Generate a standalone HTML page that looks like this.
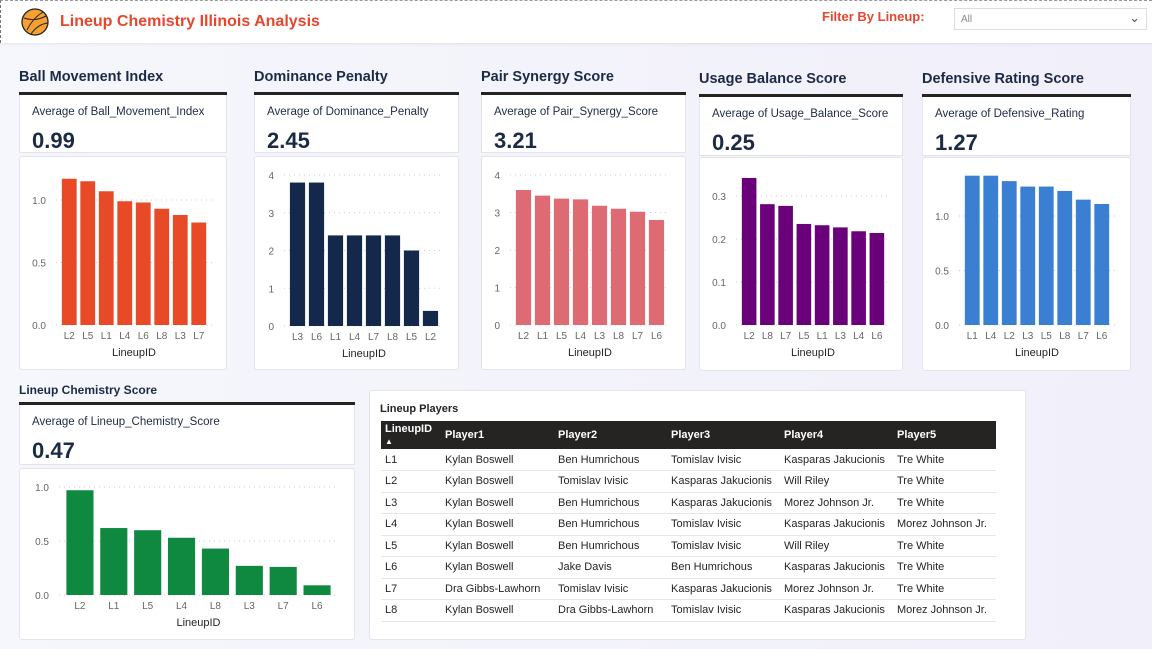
<!DOCTYPE html>
<html><head><meta charset="utf-8">
<style>
*{box-sizing:border-box;margin:0;padding:0}
body{width:1152px;height:649px;overflow:hidden;background:linear-gradient(90deg,#f5f7fc,#f1effa);font-family:"Liberation Sans","DejaVu Sans",sans-serif;position:relative;color:#1c2b45}
.abs{position:absolute}
.hdr{left:0;top:0;width:1152px;height:43px;background:#fff;box-shadow:0 1px 3px rgba(0,0,0,.08);border-left:1px dashed #777;border-top:1px dashed #999}
.ttl{font-size:14.5px;font-weight:bold;color:#1c2b45;white-space:nowrap}
.line{height:3px;background:#252423}
.kpi{background:#fff;border:1px solid #e3e5ea;border-top:none}
.kpi .lab{position:absolute;left:12px;top:11px;font-size:11.5px;color:#1c2b45;white-space:nowrap}
.kpi .val{position:absolute;left:12px;top:33px;font-size:22px;font-weight:bold;color:#1c2b45}
.card{background:#fff;border:1px solid #e3e5ea;border-radius:3px}
svg text{font-family:"Liberation Sans",sans-serif}
table{border-collapse:collapse;font-size:11px;color:#252423}
td,th{text-align:left;padding-left:4px;white-space:nowrap}
</style></head><body>
<div class="abs hdr"></div>
<svg class="abs" style="left:21px;top:8px" width="28" height="28">
<circle cx="14" cy="14" r="13" fill="#f5a030" stroke="#222" stroke-width="1.3"/>
<path d="M3 10 Q14 14 25 8 M6 22 Q12 10 22 4 M10 26 Q17 16 27 15" fill="none" stroke="#222" stroke-width="1"/></svg>
<div class="abs" style="left:60px;top:13px;font-size:16px;font-weight:bold;color:#e8452c">Lineup Chemistry Illinois Analysis</div>
<div class="abs" style="left:822px;top:9px;font-size:13px;font-weight:bold;color:#e8452c">Filter By Lineup:</div>
<div class="abs" style="left:954px;top:8px;width:193px;height:22px;border:1px solid #ddd;background:#fff;font-size:10px;color:#888;padding:5px 6px">All<span style="position:absolute;right:6px;top:1px;font-size:13px;color:#555">&#8964;</span></div>

<div id="charts"></div>

<div class="abs card" style="left:369px;top:390px;width:657px;height:250px">
<div class="abs" style="left:10px;top:12px;font-size:11px;font-weight:bold;color:#252423">Lineup Players</div>
<table class="abs" style="left:11px;top:30px;width:615px">
<thead><tr style="background:#252423;color:#fff;height:28px"><th style="width:60px">LineupID<br><span style="font-size:8px">&#9650;</span></th><th style="width:113px">Player1</th><th style="width:113px">Player2</th><th style="width:113px">Player3</th><th style="width:113px">Player4</th><th>Player5</th></tr></thead>
<tbody id="tb"></tbody></table>
</div>

<script>
const rowsData=[
["L1","Kylan Boswell","Ben Humrichous","Tomislav Ivisic","Kasparas Jakucionis","Tre White"],
["L2","Kylan Boswell","Tomislav Ivisic","Kasparas Jakucionis","Will Riley","Tre White"],
["L3","Kylan Boswell","Ben Humrichous","Kasparas Jakucionis","Morez Johnson Jr.","Tre White"],
["L4","Kylan Boswell","Ben Humrichous","Tomislav Ivisic","Kasparas Jakucionis","Morez Johnson Jr."],
["L5","Kylan Boswell","Ben Humrichous","Tomislav Ivisic","Will Riley","Tre White"],
["L6","Kylan Boswell","Jake Davis","Ben Humrichous","Kasparas Jakucionis","Tre White"],
["L7","Dra Gibbs-Lawhorn","Tomislav Ivisic","Kasparas Jakucionis","Morez Johnson Jr.","Tre White"],
["L8","Kylan Boswell","Dra Gibbs-Lawhorn","Tomislav Ivisic","Kasparas Jakucionis","Morez Johnson Jr."]];
const ballCats=["L2","L5","L1","L4","L6","L8","L3","L7"];
const ballVals=[1.17,1.15,1.07,0.99,0.98,0.93,0.88,0.82];
const ballTicks=[0,0.5,1.0];
const domCats=["L3","L6","L1","L4","L7","L8","L5","L2"];
const domVals=[3.8,3.8,2.4,2.4,2.4,2.4,2.0,0.4];
const domTicks=[0,1,2,3,4];
const pairCats=["L2","L1","L5","L4","L3","L8","L7","L6"];
const pairVals=[3.6,3.45,3.37,3.35,3.18,3.1,3.02,2.8];
const pairTicks=[0,1,2,3,4];
const useCats=["L2","L8","L7","L5","L1","L3","L4","L6"];
const useVals=[0.342,0.281,0.277,0.235,0.232,0.227,0.218,0.214];
const useTicks=[0,0.1,0.2,0.3];
const defCats=["L1","L4","L2","L3","L5","L8","L7","L6"];
const defVals=[1.37,1.37,1.32,1.27,1.27,1.23,1.15,1.11];
const defTicks=[0,0.5,1.0];
const chemCats=["L2","L1","L5","L4","L8","L3","L7","L6"];
const chemVals=[0.97,0.62,0.6,0.53,0.43,0.27,0.26,0.09];
const chemTicks=[0,0.5,1.0];

const tb=document.getElementById('tb');
rowsData.forEach((r,i)=>{const tr=document.createElement('tr');tr.style.height='21.5px';tr.style.borderBottom='1px solid #e6e6e6';


r.forEach(c=>{const td=document.createElement('td');td.textContent=c;tr.appendChild(td)});tb.appendChild(tr)});

const panels=[
{name:'ball-movement',title:'Ball Movement Index',lab:'Average of Ball_Movement_Index',kpi:'0.99',x:19,w:208,ty:69,ly:92,ky:95,kh:58,cy:156,ch:214,cats:ballCats,vals:ballVals,ticks:ballTicks,dec:1,max:1.0,y0:325,ymax:200,color:'#e84a27',bx0:60,bx1:208},
{name:'dominance-penalty',title:'Dominance Penalty',lab:'Average of Dominance_Penalty',kpi:'2.45',x:254,w:205,ty:69,ly:92,ky:95,kh:58,cy:156,ch:214,cats:domCats,vals:domVals,ticks:domTicks,dec:0,max:4,y0:326,ymax:175,color:'#13284b',bx0:288,bx1:440},
{name:'pair-synergy',title:'Pair Synergy Score',lab:'Average of Pair_Synergy_Score',kpi:'3.21',x:481,w:205,ty:69,ly:92,ky:95,kh:58,cy:156,ch:214,cats:pairCats,vals:pairVals,ticks:pairTicks,dec:0,max:4,y0:325,ymax:175,color:'#de6a73',bx0:514,bx1:666},
{name:'usage-balance',title:'Usage Balance Score',lab:'Average of Usage_Balance_Score',kpi:'0.25',x:699,w:204,ty:71,ly:94,ky:97,kh:59,cy:157,ch:214,cats:useCats,vals:useVals,ticks:useTicks,dec:1,max:0.3,y0:325,ymax:196,color:'#6b007b',bx0:740,bx1:886},
{name:'defensive-rating',title:'Defensive Rating Score',lab:'Average of Defensive_Rating',kpi:'1.27',x:922,w:209,ty:71,ly:94,ky:97,kh:59,cy:157,ch:214,cats:defCats,vals:defVals,ticks:defTicks,dec:1,max:1.0,y0:325,ymax:216,color:'#3a7fd2',bx0:963,bx1:1111},
{name:'lineup-chemistry',title:'Lineup Chemistry Score',lab:'Average of Lineup_Chemistry_Score',kpi:'0.47',x:19,w:336,ty:383,ly:402,ky:405,kh:60,cy:468,ch:172,cats:chemCats,vals:chemVals,ticks:chemTicks,dec:1,max:1.0,y0:595,ymax:487,color:'#0f8840',bx0:63,bx1:334,small:true}];
const root=document.getElementById('charts');
panels.forEach(p=>{
 const t=document.createElement('div');t.className='abs ttl';t.style.left=p.x+'px';t.style.top=p.ty+'px';
 if(p.small){t.style.fontSize='12px'}
 t.textContent=p.title;
 
 
 root.appendChild(t);
 const l=document.createElement('div');l.className='abs line';l.style.left=p.x+'px';l.style.top=p.ly+'px';l.style.width=p.w+'px';
 
 
 root.appendChild(l);
 const k=document.createElement('div');k.className='abs kpi';k.style.left=p.x+'px';k.style.top=p.ky+'px';k.style.width=p.w+'px';k.style.height=p.kh+'px';
 k.innerHTML='<div class="lab">'+p.lab+'</div><div class="val">'+p.kpi+'</div>';
 
 
 root.appendChild(k);
 const c=document.createElement('div');c.className='abs card';c.style.left=p.x+'px';c.style.top=p.cy+'px';c.style.width=p.w+'px';c.style.height=p.ch+'px';
 
 
 root.appendChild(c);
 const NS='http://www.w3.org/2000/svg';
 const s=document.createElementNS(NS,'svg');s.setAttribute('width',1152);s.setAttribute('height',649);s.style.position='absolute';s.style.left='0';s.style.top='0';s.style.pointerEvents='none';
 
 
 root.appendChild(s);
 const yS=v=>p.y0-(v/p.max)*(p.y0-p.ymax);
 const step=(p.bx1-p.bx0)/p.cats.length;const bw=step*0.8;
 p.ticks.forEach(tv=>{const y=yS(tv);
  const g=document.createElementNS(NS,'line');g.setAttribute('x1',p.bx0-4);g.setAttribute('x2',p.bx1+4);g.setAttribute('y1',y);g.setAttribute('y2',y);g.setAttribute('stroke','#ccc');g.setAttribute('stroke-dasharray','1 4');s.appendChild(g);
  const tx=document.createElementNS(NS,'text');tx.setAttribute('x',p.bx0-14);tx.setAttribute('y',y+4);tx.setAttribute('text-anchor','end');tx.setAttribute('font-size','10');tx.setAttribute('fill','#666');tx.textContent=tv.toFixed(p.dec);
  
  
  s.appendChild(tx);});
 p.cats.forEach((cat,i)=>{const x=p.bx0+i*step+(step-bw)/2;const y=yS(p.vals[i]);
  const r=document.createElementNS(NS,'rect');r.setAttribute('x',x);r.setAttribute('y',y);r.setAttribute('width',bw);r.setAttribute('height',p.y0-y);r.setAttribute('fill',p.color);
  
  
  s.appendChild(r);
  const tx=document.createElementNS(NS,'text');tx.setAttribute('x',x+bw/2);tx.setAttribute('y',p.y0+14);tx.setAttribute('text-anchor','middle');tx.setAttribute('font-size','10');tx.setAttribute('fill','#666');tx.textContent=cat;
  
  
  s.appendChild(tx);});
 const at=document.createElementNS(NS,'text');at.setAttribute('x',(p.bx0+p.bx1)/2);at.setAttribute('y',p.y0+31);at.setAttribute('text-anchor','middle');at.setAttribute('font-size','11');at.setAttribute('fill','#252423');at.textContent='LineupID';
 
 
 s.appendChild(at);
});
</script>
</body></html>
